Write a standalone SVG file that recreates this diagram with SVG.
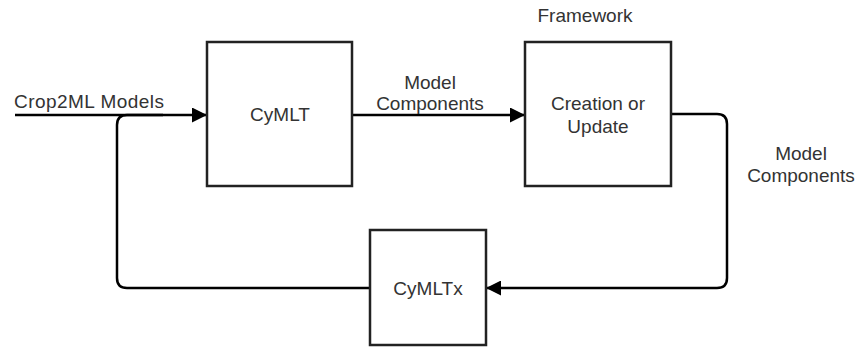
<svg xmlns="http://www.w3.org/2000/svg" width="860" height="350" viewBox="0 0 860 350">
<style>
.box{fill:#fff;stroke:#222;stroke-width:2.5}
.ln{fill:none;stroke:#000;stroke-width:2.5}
text{font-family:"Liberation Sans",Arial,sans-serif;font-size:19px;fill:#333;text-anchor:middle;dominant-baseline:central}
</style>
<defs>
<marker id="arr" viewBox="0 0 10 10" refX="10" refY="5" markerWidth="15" markerHeight="15" markerUnits="userSpaceOnUse" orient="auto">
<path d="M0,0 L10,5 L0,10 Z" fill="#000"/>
</marker>
</defs>
<rect width="860" height="350" fill="#fff"/>
<g id="connectors">
<path class="ln" d="M370,288 L127,288 Q117,288 117,278 L117,125 Q117,115 127,115 L163,115"/>
<path class="ln" d="M15,115 L207,115" marker-end="url(#arr)"/>
<path class="ln" d="M352,115 L525,115" marker-end="url(#arr)"/>
<path class="ln" d="M671,114 L717,114 Q727,114 727,124 L727,278 Q727,288 717,288 L486,288" marker-end="url(#arr)"/>
<text x="14" y="101" style="text-anchor:start" textLength="150">Crop2ML Models</text>
<text x="430" y="82">Model</text>
<text x="430" y="103">Components</text>
<text x="801" y="153">Model</text>
<text x="801" y="175">Components</text>
</g>
<g id="cymlt">
<rect class="box" x="207" y="42" width="145" height="144"/>
<text x="280" y="114">CyMLT</text>
</g>
<g id="framework">
<text x="585" y="15">Framework</text>
<rect class="box" x="525" y="42" width="146" height="144"/>
<text x="598" y="103">Creation or</text>
<text x="598" y="126">Update</text>
</g>
<g id="cymltx">
<rect class="box" x="370" y="230" width="116" height="115"/>
<text x="428" y="288">CyMLTx</text>
</g>
</svg>
